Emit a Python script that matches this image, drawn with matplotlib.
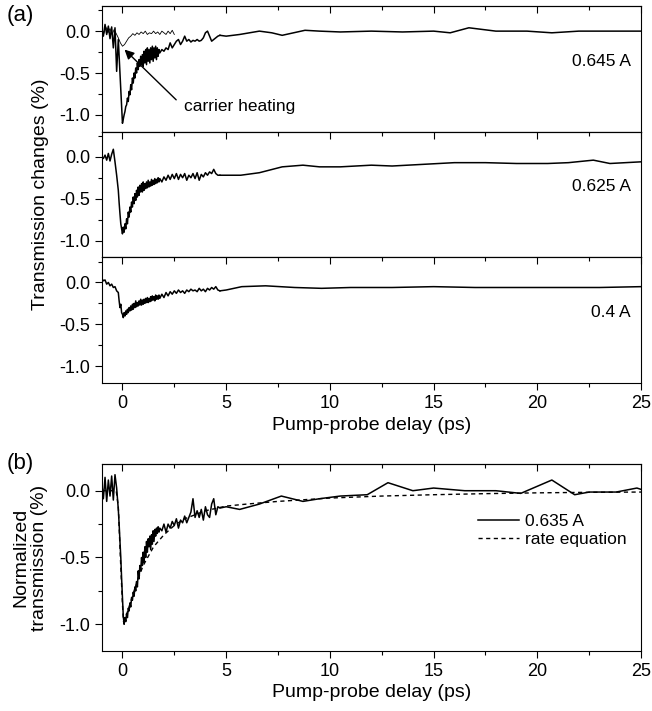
import matplotlib
matplotlib.use('Agg')
import matplotlib.pyplot as plt
from matplotlib.ticker import MultipleLocator, FormatStrFormatter

plt.rcParams['font.family'] = ['Liberation Sans', 'DejaVu Sans']
plt.rcParams['axes.unicode_minus'] = False

# shared delay grid (ps) for the noisy part of the scans
t_fast = [-1.0, -0.92, -0.84, -0.76, -0.68, -0.6, -0.52, -0.44, -0.36, -0.28, -0.2,
          -0.16, -0.12, -0.08, -0.04, 0.0, 0.04, 0.08, 0.12, 0.16, 0.2, 0.24, 0.28,
          0.32, 0.36, 0.4, 0.44, 0.48, 0.52, 0.56, 0.6, 0.64, 0.68, 0.72, 0.76, 0.8,
          0.84, 0.88, 0.92, 0.96, 1.0, 1.04, 1.08, 1.12, 1.16, 1.2, 1.24, 1.28, 1.32,
          1.36, 1.4, 1.44, 1.48, 1.52, 1.56, 1.6, 1.64, 1.68, 1.72, 1.76, 1.8,
          1.9, 2.0, 2.1, 2.2, 2.3, 2.4, 2.5, 2.6, 2.7, 2.8, 2.9, 3.0, 3.1, 3.2, 3.3,
          3.4, 3.5, 3.6, 3.7, 3.8, 3.9, 4.0, 4.1, 4.2, 4.3, 4.4, 4.5, 4.6, 4.7]

# 0.645 A
y645_fast = [0.03, -0.06, 0.08, -0.04, 0.06, -0.09, 0.05, -0.2, 0.04, -0.48, -0.1,
             -0.3, -0.5, -0.7, -0.9, -1.1, -1.05, -1.0, -0.96, -0.9, -0.88, -0.8, -0.84,
             -0.72, -0.76, -0.64, -0.7, -0.56, -0.62, -0.5, -0.56, -0.44, -0.5, -0.38,
             -0.46, -0.34, -0.42, -0.3, -0.4, -0.28, -0.42, -0.24, -0.38, -0.22, -0.4,
             -0.2, -0.36, -0.22, -0.38, -0.2, -0.34, -0.18, -0.36, -0.2, -0.32, -0.18,
             -0.34, -0.2, -0.3, -0.22, -0.26,
             -0.22, -0.24, -0.2, -0.22, -0.14, -0.2, -0.16, -0.12, -0.1, -0.16, -0.12,
             -0.06, -0.12, -0.1, -0.13, -0.11, -0.12, -0.1, -0.12, -0.11, -0.08, -0.02,
             0.0, -0.06, -0.12, -0.1, -0.08, -0.06, -0.05]
t645_slow = [4.7, 5.0, 5.65, 6.6, 7.2, 7.7, 8.8, 9.5, 10.5, 12.0, 13.5, 15.0, 15.8,
             16.7, 18.0, 19.5, 20.7, 22.0, 23.5, 25.0]
y645_slow = [-0.05, -0.06, -0.04, 0.0, -0.02, -0.05, 0.01, 0.0, -0.01, 0.0, -0.01, 0.0,
             -0.02, 0.04, 0.0, 0.0, -0.02, 0.0, 0.0, 0.0]

# carrier heating trace (thin)
t_heat = [-1.0, -0.9, -0.8, -0.7, -0.6, -0.5, -0.4, -0.3, -0.2, -0.1, 0.0, 0.05, 0.1,
          0.2, 0.3, 0.4, 0.5, 0.6, 0.7, 0.8, 0.9, 1.0, 1.1, 1.2, 1.3, 1.4, 1.5, 1.6,
          1.7, 1.8, 1.9, 2.0, 2.1, 2.2, 2.3, 2.4, 2.5]
y_heat = [0.04, -0.03, 0.05, -0.02, 0.03, -0.04, 0.02, -0.03, -0.08, -0.14, -0.18,
          -0.17, -0.16, -0.12, -0.08, -0.06, -0.03, -0.05, -0.02, -0.04, -0.01, -0.03,
          0.0, -0.04, -0.02, -0.03, 0.0, -0.03, -0.01, -0.04, 0.0, -0.02, -0.04, 0.0,
          -0.03, 0.01, -0.04]

# 0.625 A
y625_fast = [0.0, -0.02, 0.02, -0.04, 0.04, -0.05, 0.03, 0.09, -0.06, -0.22, -0.4,
             -0.55, -0.68, -0.8, -0.86, -0.92, -0.84, -0.9, -0.8, -0.86, -0.74, -0.8,
             -0.66, -0.72, -0.6, -0.66, -0.54, -0.6, -0.48, -0.56, -0.44, -0.52, -0.4,
             -0.48, -0.36, -0.46, -0.34, -0.42, -0.32, -0.42, -0.3, -0.4, -0.32, -0.38,
             -0.3, -0.37, -0.28, -0.36, -0.3, -0.35, -0.27, -0.34, -0.28, -0.33, -0.26,
             -0.32, -0.27, -0.31, -0.25, -0.3, -0.26,
             -0.3, -0.24, -0.28, -0.22, -0.27, -0.21, -0.26, -0.2, -0.27, -0.21, -0.25,
             -0.2, -0.28, -0.22, -0.25, -0.2, -0.26, -0.19, -0.28, -0.21, -0.24, -0.19,
             -0.22, -0.18, -0.2, -0.15, -0.2, -0.22, -0.22]
t625_slow = [4.7, 5.0, 5.7, 6.6, 7.7, 8.7, 9.5, 10.5, 12.0, 13.0, 14.5, 16.0, 17.5,
             19.0, 20.5, 21.5, 22.7, 23.5, 25.0]
y625_slow = [-0.22, -0.22, -0.22, -0.19, -0.12, -0.1, -0.12, -0.12, -0.1, -0.11, -0.09,
             -0.07, -0.07, -0.08, -0.08, -0.07, -0.04, -0.08, -0.06]

# 0.4 A
y04_fast = [0.05, 0.02, 0.03, -0.02, 0.0, -0.04, -0.02, -0.06, -0.05, -0.1, -0.12,
            -0.22, -0.3, -0.26, -0.36, -0.38, -0.42, -0.36, -0.4, -0.34, -0.38, -0.32,
            -0.36, -0.3, -0.34, -0.28, -0.33, -0.26, -0.32, -0.25, -0.3, -0.22, -0.29,
            -0.24, -0.28, -0.22, -0.27, -0.2, -0.27, -0.21, -0.26, -0.2, -0.25, -0.19,
            -0.24, -0.18, -0.24, -0.19, -0.23, -0.17, -0.22, -0.16, -0.21, -0.17, -0.22,
            -0.15, -0.2, -0.16, -0.2, -0.15, -0.19,
            -0.14, -0.18, -0.12, -0.16, -0.11, -0.14, -0.1, -0.13, -0.09, -0.12, -0.1,
            -0.13, -0.09, -0.11, -0.08, -0.1, -0.09, -0.11, -0.07, -0.1, -0.08, -0.11,
            -0.07, -0.09, -0.06, -0.08, -0.05, -0.09, -0.1]
t04_slow = [4.7, 5.0, 5.75, 6.9, 8.3, 9.6, 11.0, 13.0, 15.0, 17.0, 19.0, 21.0, 23.0, 25.0]
y04_slow = [-0.1, -0.09, -0.05, -0.04, -0.06, -0.07, -0.06, -0.06, -0.05, -0.06, -0.06,
            -0.06, -0.06, -0.05]

# (b) 0.635 A, normalized
y635_fast = [0.06, -0.06, 0.1, -0.08, 0.08, -0.04, 0.11, -0.07, 0.12, 0.02, -0.14,
             -0.25, -0.38, -0.5, -0.66, -0.8, -0.94, -1.0, -0.95, -0.98, -0.92, -0.95,
             -0.88, -0.9, -0.84, -0.87, -0.8, -0.82, -0.76, -0.79, -0.72, -0.75, -0.68,
             -0.72, -0.6, -0.66, -0.56, -0.6, -0.5, -0.56, -0.46, -0.54, -0.42, -0.5,
             -0.38, -0.46, -0.36, -0.42, -0.34, -0.44, -0.33, -0.4, -0.3, -0.38, -0.29,
             -0.34, -0.28, -0.32, -0.27, -0.31, -0.28,
             -0.3, -0.25, -0.31, -0.25, -0.28, -0.23, -0.26, -0.21, -0.28, -0.22, -0.24,
             -0.19, -0.24, -0.2, -0.16, -0.06, -0.2, -0.15, -0.2, -0.14, -0.22, -0.12,
             -0.18, -0.2, -0.1, -0.06, -0.18, -0.12, -0.13]
t635_slow = [4.7, 5.0, 5.65, 6.6, 7.66, 8.7, 9.5, 10.5, 11.8, 12.8, 14.0, 15.0, 16.5,
             18.0, 19.2, 20.7, 21.8, 22.5, 23.8, 24.8, 25.0]
y635_slow = [-0.13, -0.12, -0.14, -0.1, -0.04, -0.08, -0.06, -0.04, -0.03, 0.06, 0.0,
             0.02, 0.0, 0.0, -0.02, 0.08, -0.03, -0.01, -0.01, 0.02, 0.01]

# rate equation model
t_rate = [-1.0, -0.3, -0.2, -0.1, 0.0, 0.05, 0.1, 0.3, 0.5, 0.75, 1.0, 1.5, 2.0, 2.5,
          3.0, 4.0, 5.0, 6.0, 7.5, 10.0, 12.5, 15.0, 17.5, 20.0, 22.5, 25.0]
y_rate = [0.0, 0.0, -0.12, -0.5, -0.85, -0.98, -0.97, -0.88, -0.78, -0.66, -0.56,
          -0.42, -0.33, -0.26, -0.21, -0.15, -0.115, -0.1, -0.08, -0.055, -0.04, -0.03,
          -0.022, -0.016, -0.012, -0.01]

currents = ['0.645 A', '0.625 A', '0.4 A']

fig = plt.figure(figsize=(6.52, 7.11), dpi=100)

L, W = 0.156, 0.8272
h = 0.17675
bottoms = [0.81482, 0.63807, 0.46132]


def style(ax, ylim, show_bottom):
    ax.set_xlim(-1, 25)
    ax.set_ylim(*ylim)
    ax.xaxis.set_major_locator(MultipleLocator(5))
    ax.xaxis.set_minor_locator(MultipleLocator(2.5))
    ax.yaxis.set_major_locator(MultipleLocator(0.5))
    ax.yaxis.set_minor_locator(MultipleLocator(0.25))
    ax.yaxis.set_major_formatter(FormatStrFormatter('%.1f'))
    ax.tick_params(axis='y', which='both', direction='out', labelsize=13, width=0.8)
    ax.tick_params(axis='y', which='major', length=5)
    ax.tick_params(axis='y', which='minor', length=3)
    ax.tick_params(axis='x', which='both', direction='out', bottom=show_bottom,
                   labelbottom=show_bottom, labelsize=13, width=0.8)
    ax.tick_params(axis='x', which='major', length=5)
    ax.tick_params(axis='x', which='minor', length=3)
    for s in ax.spines.values():
        s.set_linewidth(0.8)
    top = ax.secondary_xaxis('top')
    top.xaxis.set_major_locator(MultipleLocator(5))
    top.xaxis.set_minor_locator(MultipleLocator(2.5))
    top.tick_params(axis='x', which='both', direction='in', labeltop=False, width=0.8)
    top.tick_params(axis='x', which='major', length=5)
    top.tick_params(axis='x', which='minor', length=3)
    top.spines['top'].set_linewidth(0.8)


axes = []
for i, b in enumerate(bottoms):
    ax = fig.add_axes([L, b, W, h])
    style(ax, (-1.2, 0.3), i == 2)
    axes.append(ax)

fast = [y645_fast, y625_fast, y04_fast]
slow = [(t645_slow, y645_slow), (t625_slow, y625_slow), (t04_slow, y04_slow)]
for ax, yf, (ts, ys), lab in zip(axes, fast, slow, currents):
    ax.plot(t_fast, yf, color='k', lw=1.1)
    ax.plot(ts, ys, color='k', lw=1.1)
    ax.text(24.5, -0.36, lab, ha='right', va='center', fontsize=12.5)

axes[0].plot(t_heat, y_heat, color='k', lw=0.6)
axes[0].annotate('', xy=(0.1, -0.22), xytext=(2.59, -0.82),
                 arrowprops=dict(arrowstyle='-|>', color='k', lw=1.0,
                                 mutation_scale=14, shrinkA=0, shrinkB=0))
axes[0].text(2.99, -0.9, 'carrier heating', ha='left', va='center', fontsize=12.5)
axes[2].set_xlabel('Pump-probe delay (ps)', fontsize=14, labelpad=4)

axb = fig.add_axes([L, 0.08439, W, 0.26301])
style(axb, (-1.2, 0.2), True)
axb.plot(t_fast + t635_slow, y635_fast + y635_slow, color='k', lw=1.1, label='0.635 A')
axb.plot(t_rate, y_rate, color='k', lw=1.0, ls=(0, (3, 2.5)), label='rate equation')
axb.set_xlabel('Pump-probe delay (ps)', fontsize=14, labelpad=3)
axb.legend(loc='upper left', bbox_to_anchor=(0.697, 0.735), frameon=False, fontsize=12.5,
           handlelength=2.4, handletextpad=0.3, labelspacing=0.2, borderpad=0,
           borderaxespad=0)

fig.text(7 / 652, 1 - 5 / 711, '(a)', ha='left', va='top', fontsize=16)
fig.text(7 / 652, 1 - 453 / 711, '(b)', ha='left', va='top', fontsize=16)
fig.text(40.5 / 652, 1 - 194.5 / 711, 'Transmission changes (%)', rotation=90,
         ha='center', va='center', fontsize=14)
fig.text(30.5 / 652, 1 - 557.5 / 711, 'Normalized\ntransmission (%)', rotation=90,
         ha='center', va='center', fontsize=14, linespacing=1.1)

fig.savefig('out.png', dpi=100)
